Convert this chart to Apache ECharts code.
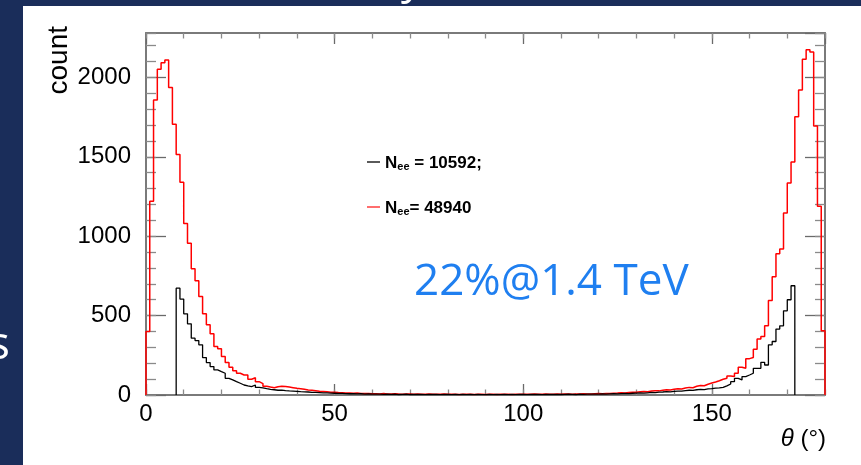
<!DOCTYPE html>
<html>
<head>
<meta charset="utf-8">
<script src="https://cdn.jsdelivr.net/npm/echarts@6/dist/echarts.min.js"></script>
<style>
html,body{margin:0;padding:0;width:861px;height:465px;overflow:hidden;background:#1a2d5a;}
#paper{position:absolute;left:23px;top:6px;right:0;bottom:0;background:#ffffff;}
#chart{position:absolute;left:0;top:0;width:861px;height:465px;}
</style>
</head>
<body>
<div id="paper"></div>
<div id="chart"></div>
<script>
// ---- data (1° bins, theta from 0 to 180) ----
const thetaMin = 0;
const thetaMax = 180;
const xTickLabels = ['0', '50', '100', '150'];
const yTickLabels = ['0', '500', '1000', '1500', '2000'];
const legendNames = ['N_ee = 10592;', 'N_ee= 48940'];

// red histogram: N_ee = 48940
const redCounts = [
  400,1220,1858,2052,2092,2110,1936,1705,1515,1340,
  1080,955,795,720,620,511,442,385,305,292,
  242,204,175,153,137,126,126,99,109,84,
  72,55,50,46,52,55,54,50,46,42,
  40,36,32,30,27,24,22,20,18,17,
  15,14,13,12,11,12,10,9,10,8,
  8,7,9,6,7,8,6,5,7,6,
  5,6,4,5,6,4,5,4,6,5,
  4,5,3,4,5,4,3,5,4,3,
  4,5,3,4,5,4,3,5,4,5,
  4,5,6,4,5,6,5,4,6,5,
  7,6,5,7,6,8,7,6,8,9,
  8,10,9,11,12,14,13,15,17,18,
  20,22,21,25,27,26,30,33,31,36,
  40,38,44,48,46,55,60,58,68,75,
  82,90,99,105,120,116,137,175,168,229,
  236,288,352,368,436,595,745,890,920,1147,
  1336,1467,1753,1921,2115,2174,2161,1694,1189,404
];

// black histogram: N_ee = 10592
const blackCounts = [
  0,0,0,0,0,0,0,0,673,604,
  511,448,358,343,316,236,204,179,158,147,
  137,105,95,84,74,63,57,53,63,48,
  45,40,36,33,30,31,28,26,25,23,
  21,20,19,17,16,15,14,13,12,11,
  10,10,9,8,9,7,8,6,7,6,
  5,6,4,5,4,5,3,4,5,3,
  4,3,4,2,3,4,3,2,3,4,
  2,3,2,3,2,3,2,3,2,2,
  3,2,3,2,3,2,3,2,3,3,
  2,3,4,3,2,3,4,3,4,3,
  4,5,4,3,5,4,5,6,5,6,
  7,6,7,8,7,9,10,9,11,12,
  13,12,14,16,15,18,19,21,20,23,
  25,24,28,30,29,33,35,34,38,40,
  43,45,48,57,69,84,105,95,116,126,
  137,168,168,206,189,316,337,415,436,530,
  600,688,0,0,0,0,0,0,0,0
];

// histogram outline: points at bin left edges, drawn as steps
function histOutline(counts) {
  let first = counts.findIndex(v => v > 0);
  let last = counts.length - 1;
  while (last > 0 && counts[last] === 0) last--;
  const binW = (thetaMax - thetaMin) / counts.length;
  const pts = [[thetaMin + first * binW, 0]];
  for (let k = first; k <= last; k++) pts.push([thetaMin + k * binW, counts[k]]);
  pts.push([thetaMin + (last + 1) * binW, counts[last]]);
  pts.push([thetaMin + (last + 1) * binW, 0]);
  return pts;
}

const FONT = "'Liberation Sans', Arial, Helvetica, sans-serif";
const FRAME = '#7a7a7a';
const YMAX = 2280;

function xAx(pos, interval, len, labels, line) {
  return {
    type: 'value', position: pos, min: thetaMin, max: thetaMax, interval: interval,
    axisLine: {show: line, onZero: false, lineStyle: {color: FRAME, width: 2}},
    axisTick: {show: true, inside: true, length: len, lineStyle: {color: len > 8 ? '#6a6a6a' : '#8a8a8a', width: 1.3}},
    axisLabel: labels ? {show: true, margin: 7, color: '#000', fontSize: 24, fontFamily: FONT,
      showMaxLabel: false,
      formatter: v => (xTickLabels.indexOf(String(v)) >= 0 ? String(v) : '')} : {show: false},
    splitLine: {show: false}
  };
}
function yAx(pos, interval, len, labels, line) {
  return {
    type: 'value', position: pos, min: 0, max: YMAX, interval: interval,
    axisLine: {show: line, onZero: false, lineStyle: {color: FRAME, width: 2}},
    axisTick: {show: true, inside: true, length: len, lineStyle: {color: len > 14 ? '#6a6a6a' : '#8a8a8a', width: 1.3}},
    axisLabel: labels ? {show: true, margin: 15, color: '#000', fontSize: 24, fontFamily: FONT,
      showMaxLabel: false,
      formatter: v => (yTickLabels.indexOf(String(v)) >= 0 ? String(v) : '')} : {show: false},
    splitLine: {show: false}
  };
}

const richLegend = {
  n: {fontSize: 17, fontWeight: 'bold', fontFamily: FONT, color: '#000', lineHeight: 20, verticalAlign: 'bottom'},
  s: {fontSize: 11, fontWeight: 'bold', fontFamily: FONT, color: '#000', lineHeight: 12, verticalAlign: 'bottom'}
};
function legendFmt(name) {
  const parts = name.split('_ee');
  return '{n|' + parts[0] + '}{s|ee}{n|' + parts[1] + '}';
}
function legendAt(name, top) {
  return {data: [name], left: 367, top: top, padding: 0, icon: 'rect', itemWidth: 13, itemHeight: 1.3,
          selectedMode: false, formatter: legendFmt, textStyle: {rich: richLegend}};
}

const chart = echarts.init(document.getElementById('chart'), null, {renderer: 'canvas'});
chart.setOption({
  animation: false,
  backgroundColor: 'transparent',
  grid: {left: 146, top: 33, right: 36, bottom: 70, containLabel: false},
  xAxis: [
    xAx('bottom', 50, 11, true, true),
    xAx('bottom', 10, 5.5, false, false),
    xAx('top', 50, 11, false, true),
    xAx('top', 10, 5.5, false, false)
  ],
  yAxis: [
    yAx('left', 500, 20, true, true),
    yAx('left', 100, 10, false, false),
    yAx('right', 500, 20, false, true),
    yAx('right', 100, 10, false, false)
  ],
  legend: [legendAt(legendNames[0], 155), legendAt(legendNames[1], 200)],
  series: [
    {name: legendNames[1], type: 'line', step: 'end', symbol: 'none', xAxisIndex: 0, yAxisIndex: 0,
     data: histOutline(redCounts), lineStyle: {color: '#ff0000', width: 1.5}, itemStyle: {color: '#ff2020'}, z: 3},
    {name: legendNames[0], type: 'line', step: 'end', symbol: 'none', xAxisIndex: 0, yAxisIndex: 0,
     data: histOutline(blackCounts), lineStyle: {color: '#000000', width: 1.3}, itemStyle: {color: '#000000'}, z: 4}
  ],
  graphic: [
    {type: 'text', x: 59, y: 26, rotation: Math.PI / 2, silent: true,
     style: {text: 'count', fontSize: 28, fontFamily: FONT, fill: '#000', align: 'right', verticalAlign: 'middle',
             textAlign: 'right', textVerticalAlign: 'middle'}},
    {type: 'text', x: 826, y: 439, silent: true,
     style: {text: '{i|θ} (°)', fontSize: 24, fontFamily: FONT, fill: '#000', align: 'right', verticalAlign: 'middle',
             textAlign: 'right', textVerticalAlign: 'middle',
             rich: {i: {fontStyle: 'italic', fontSize: 24, fontFamily: FONT, fill: '#000'}}}},
    {type: 'text', x: 414, y: 282, silent: true,
     style: {text: '22%@1.4 TeV', fontSize: 44, fontFamily: "'Open Sans', 'Noto Sans', sans-serif", fill: '#1f7ff0',
             align: 'left', verticalAlign: 'middle', textAlign: 'left', textVerticalAlign: 'middle'}},
    {type: 'text', x: 10, y: 346, silent: true,
     style: {text: 's', fontSize: 46, fontFamily: "'Open Sans', sans-serif", fill: '#ffffff',
             align: 'right', verticalAlign: 'middle', textAlign: 'right', textVerticalAlign: 'middle'}},
    {type: 'text', x: 412, y: -20, silent: true,
     style: {text: 'y', fontSize: 44, fontFamily: "'Open Sans', sans-serif", fill: '#ffffff',
             align: 'center', verticalAlign: 'middle', textAlign: 'center', textVerticalAlign: 'middle'}}
  ]
});
</script>
</body>
</html>
